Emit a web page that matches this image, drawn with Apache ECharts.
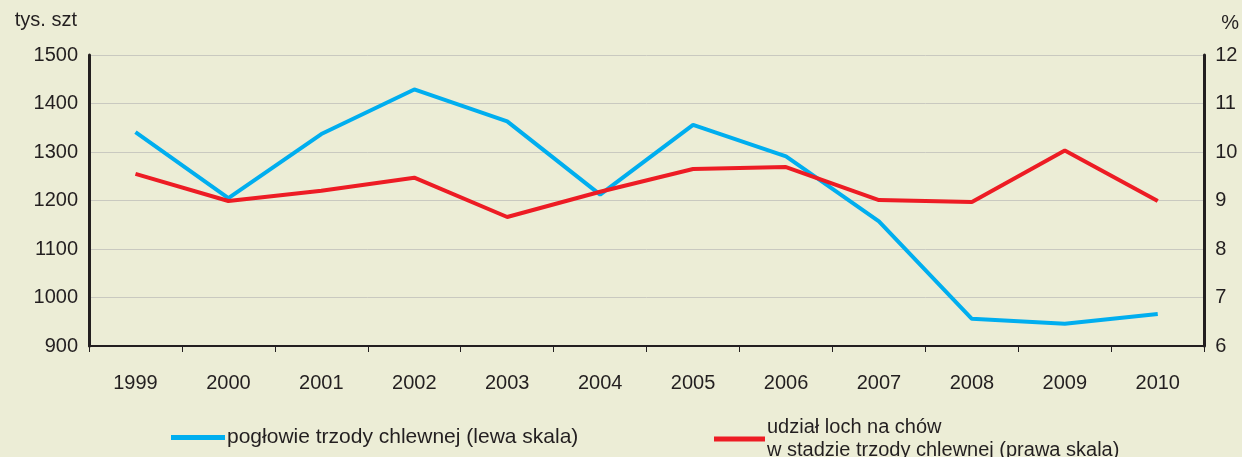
<!DOCTYPE html>
<html><head><meta charset="utf-8">
<script src="https://cdn.jsdelivr.net/npm/echarts@6/dist/echarts.min.js"></script>
<style>html,body{margin:0;padding:0;background:#ECEDD6;}#c{width:1242px;height:457px;}</style>
</head><body><div id="c"></div>
<script>
const years = ['1999','2000','2001','2002','2003','2004','2005','2006','2007','2008','2009','2010'];
const pigs = [1341,1205,1337,1429,1363,1212,1356,1291,1157,956,946,966];
const sowShare = [9.55,8.99,9.2,9.47,8.66,9.18,9.65,9.69,9.01,8.97,10.03,8.99];
const leftTicks = {min:900, max:1500, interval:100};
const rightTicks = {min:6, max:12, interval:1};
const nameLeft = 'pogłowie trzody chlewnej (lewa skala)';
const nameRight = 'udział loch na chów\nw stadzie trzody chlewnej (prawa skala)';

const font = 'Liberation Sans, Arial, sans-serif';
const txt = '#231F20';
const chart = echarts.init(document.getElementById('c'));
chart.setOption({
  backgroundColor:'#ECEDD6',
  animation:false,
  grid:{left:89,right:37,top:55,bottom:111},
  legend:[
    {data:[nameLeft],left:166,top:422,icon:'rect',itemWidth:54,itemHeight:5,
     textStyle:{fontFamily:font,fontSize:21,color:txt,padding:[0,0,0,-3]}},
    {data:[nameRight],left:709,top:411,icon:'rect',itemWidth:51,itemHeight:5,
     textStyle:{fontFamily:font,fontSize:20,color:txt,lineHeight:23,padding:[0,0,0,-3]}}
  ],
  xAxis:{type:'category',data:years,boundaryGap:true,
    axisLine:{lineStyle:{color:txt,width:2}},
    axisTick:{show:true,length:6,lineStyle:{color:txt,width:1}},
    axisLabel:{fontFamily:font,fontSize:20,color:txt,margin:27}},
  yAxis:[
    {type:'value',min:leftTicks.min,max:leftTicks.max,interval:leftTicks.interval,
     name:'tys. szt',nameLocation:'end',nameGap:25,
     nameTextStyle:{fontFamily:font,fontSize:20,color:txt,align:'right',padding:[0,12,0,0]},
     axisLine:{show:true,lineStyle:{color:txt,width:3}},axisTick:{show:false},
     axisLabel:{fontFamily:font,fontSize:20,color:txt,margin:11,formatter:v=>String(v)},
     splitLine:{lineStyle:{color:'#C9C9C0',width:1}}},
    {type:'value',min:rightTicks.min,max:rightTicks.max,interval:rightTicks.interval,position:'right',
     name:'%',nameLocation:'end',nameGap:22,
     nameTextStyle:{fontFamily:font,fontSize:20,color:txt,align:'left',padding:[0,0,0,17]},
     axisLine:{show:true,lineStyle:{color:txt,width:3}},axisTick:{show:false},
     axisLabel:{fontFamily:font,fontSize:20,color:txt,margin:11,formatter:v=>String(v)},
     splitLine:{show:false}}
  ],
  series:[
    {name:nameLeft,type:'line',data:pigs,yAxisIndex:0,symbol:'none',
     lineStyle:{color:'#00AEEF',width:4},itemStyle:{color:'#00AEEF'}},
    {name:nameRight,type:'line',data:sowShare,yAxisIndex:1,symbol:'none',
     lineStyle:{color:'#ED1C24',width:4},itemStyle:{color:'#ED1C24'}}
  ]
});
</script></body></html>
